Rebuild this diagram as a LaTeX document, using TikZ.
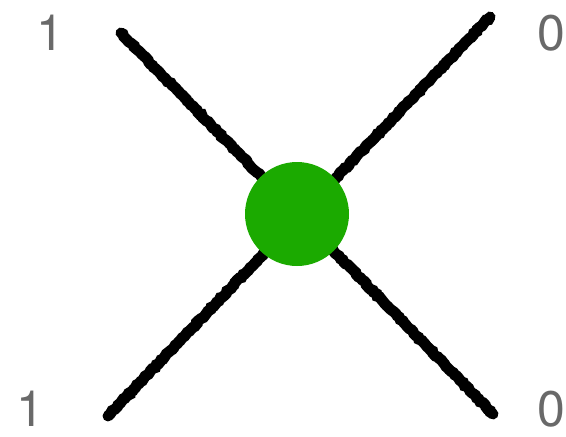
\documentclass[tikz,border=0pt]{standalone}
\usepackage{fontspec}
\setmainfont{TeX Gyre Heros}
\usetikzlibrary{positioning,decorations.pathmorphing}
\definecolor{dotgreen}{RGB}{27,170,0}
\definecolor{labelgray}{RGB}{105,105,105}

\tikzset{
  leg/.style={line width=11pt, black, line cap=round,
    decorate, decoration={random steps, segment length=2.5pt, amplitude=0.8pt}},
  vertex/.style={circle, fill=dotgreen, minimum size=104pt, inner sep=0pt},
  bit/.style={text=labelgray, font=\fontsize{50}{60}\selectfont, inner sep=0pt}
}

\begin{document}
\begin{tikzpicture}[x=1pt, y=-1pt]
    \useasboundingbox (0,0) rectangle (566,437);

    % line ends
    \coordinate (tl) at (121,33);
    \coordinate (br) at (493,414);
    \coordinate (tr) at (490,17);
    \coordinate (bl) at (108,416);

    \draw[leg] (tl) -- (br);
    \draw[leg] (tr) -- (bl);

    \node[vertex] (dot) at (297,214) {};

    % labels
    \node[bit] (intl) at (50,33) {1};
    \node[bit] (outtr) at (551,33) {0};
    \node[bit] (inbl) at (30,409) {1};
    \node[bit] (outbr) at (551,409) {0};
\end{tikzpicture}
\end{document}
